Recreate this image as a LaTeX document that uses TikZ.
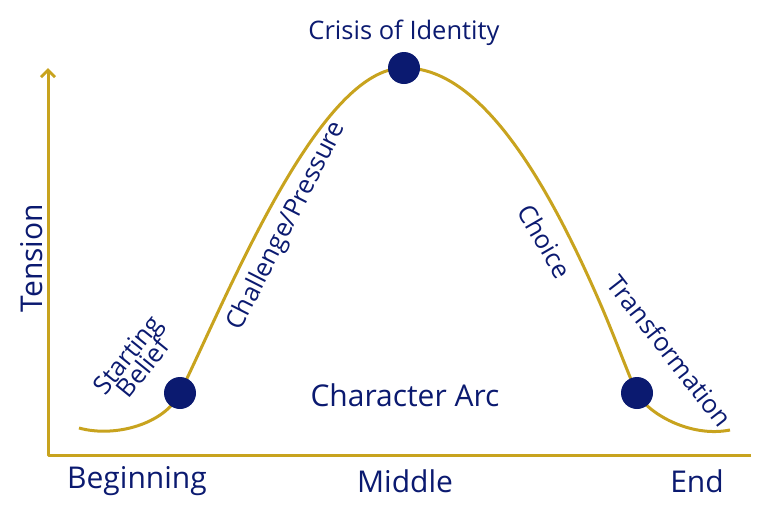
\documentclass[tikz,border=0pt]{standalone}
\usepackage{fontspec}
\setmainfont{Open Sans}
\usetikzlibrary{arrows.meta}
\definecolor{gold}{RGB}{200,163,30}
\definecolor{navy}{RGB}{11,26,112}
\begin{document}
\begin{tikzpicture}[x=1pt,y=-1pt,
  axisline/.style={draw=gold,line width=3pt,line join=round},
  arcline/.style={draw=gold,line width=3pt},
  dot/.style={circle,fill=navy,minimum size=32pt,inner sep=0pt},
  lbl/.style={text=navy,font=\fontsize{25.5}{26}\selectfont,inner sep=0pt,align=center},
  biglbl/.style={text=navy,font=\fontsize{30}{32}\selectfont,inner sep=0pt}]
\useasboundingbox (0,0) rectangle (768,512);
% axes
\coordinate (o) at (48,455);
\coordinate (ytop) at (48,68);
\coordinate (xend) at (751,455);
\draw[axisline,-{Straight Barb[length=7pt,width=14pt,line width=3pt]}] (xend) -- (o) -- (ytop);
% curve through the three story points
\coordinate (pstart) at (180,393);
\coordinate (pcrisis) at (404,68);
\coordinate (ptrans) at (637,393);
\coordinate (tailL) at (79,428);
\coordinate (tailR) at (730,430);
\coordinate (fall) at (600,303);
\draw[arcline] (tailL) .. controls (115,438) and (165,424) .. (pstart)
  .. controls (230,290) and (320,67) .. (pcrisis)
  .. controls (479,67) and (545,176.5) .. (fall)
  .. controls (615,337.5) and (630,379) .. (ptrans)
  .. controls (647,413) and (690,438) .. (tailR);
% dots
\node[dot] (start) at (pstart) {};
\node[dot] (crisis) at (pcrisis) {};
\node[dot] (trans) at (ptrans) {};
% labels
\node[lbl] (tcrisis) at (404,33) {Crisis of Identity};
\node[biglbl] (tarc) at (405,395) {Character Arc};
\node[biglbl] (tbeg) at (137,481) {Beginning};
\node[biglbl] (tmid) at (405,481) {Middle};
\node[biglbl] (tend) at (697,481) {End};
\node[biglbl,rotate=90] (ttension) at (32,258) {Tension};
\node[lbl,rotate=51] (tbelief) at (135,361) {Starting\\[-6pt]Belief};
\node[lbl,rotate=63] (tchal) at (287,226) {Challenge/Pressure};
\node[lbl,rotate=-60] (tchoice) at (545,241) {Choice};
\node[lbl,rotate=-52] (ttrans) at (670,351) {Transformation};
\end{tikzpicture}
\end{document}
